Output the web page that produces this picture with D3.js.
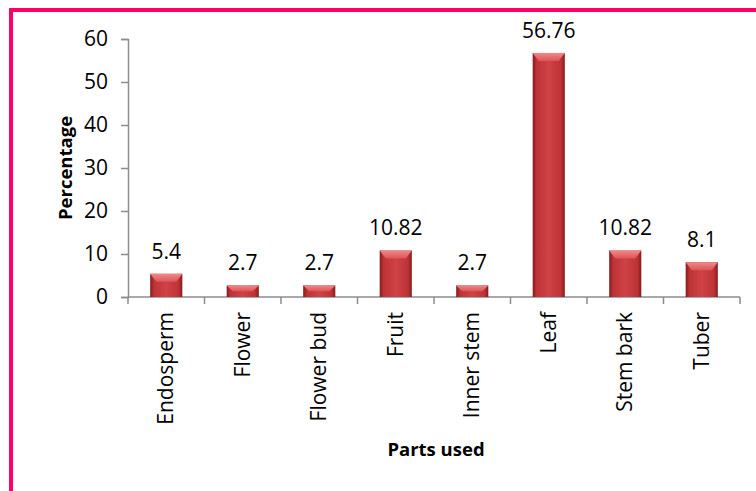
<!DOCTYPE html>
<html>
<head>
<meta charset="utf-8">
<script src="https://cdn.jsdelivr.net/npm/d3@7"></script>
<style>
  body { margin: 0; background: #fff; }
  svg { display: block; font-family: "Open Sans", sans-serif; }
</style>
</head>
<body>
<svg id="chart" width="756" height="491"></svg>
<script>
// data
var parts = ["Endosperm", "Flower", "Flower bud", "Fruit", "Inner stem", "Leaf", "Stem bark", "Tuber"];
var percents = [5.4, 2.7, 2.7, 10.82, 2.7, 56.76, 10.82, 8.1];
var yTicks = [0, 10, 20, 30, 40, 50, 60];

var svg = d3.select("#chart");
var plotLeft = 128, plotRight = 740, plotTop = 39, plotBottom = 297;

// pink frame (only left and top show in the crop)
svg.append("path")
  .attr("d", "M11,491 L11,10 L756,10")
  .attr("fill", "none")
  .attr("stroke", "#ff0066")
  .attr("stroke-width", 4);

var x = d3.scaleBand().domain(parts).range([plotLeft, plotRight]).paddingInner(0.58).paddingOuter(0.29);
var xTick = d3.scaleBand().domain(parts).range([plotLeft, plotRight]);
var y = d3.scaleLinear().domain([0, 60]).range([plotBottom, plotTop]);

var defs = svg.append("defs");
var grad = defs.append("linearGradient").attr("id", "barGrad").attr("x1", 0).attr("x2", 1).attr("y1", 0).attr("y2", 0);
grad.append("stop").attr("offset", "0%").attr("stop-color", "#861b1d");
grad.append("stop").attr("offset", "12%").attr("stop-color", "#bd3336");
grad.append("stop").attr("offset", "50%").attr("stop-color", "#cf4245");
grad.append("stop").attr("offset", "88%").attr("stop-color", "#bd3336");
grad.append("stop").attr("offset", "100%").attr("stop-color", "#861b1d");

var bevel = defs.append("linearGradient").attr("id", "bevelGrad").attr("x1", 0).attr("x2", 0).attr("y1", 0).attr("y2", 1);
bevel.append("stop").attr("offset", "0%").attr("stop-color", "#f08a8a");
bevel.append("stop").attr("offset", "100%").attr("stop-color", "#dd5456");

// y axis
var yAxis = svg.append("g")
  .attr("transform", "translate(" + plotLeft + ",0)")
  .call(d3.axisLeft(y).tickValues(yTicks).tickSize(7).tickPadding(13));
yAxis.select(".domain").attr("stroke", "#8c8c8c").attr("stroke-width", 1.5);
yAxis.selectAll(".tick line").attr("stroke", "#8c8c8c").attr("stroke-width", 1.5);
yAxis.selectAll(".tick text").attr("font-size", 21).attr("fill", "#000").attr("font-family", "Open Sans");

// x axis line with ticks at category boundaries
var xAxis = svg.append("g").attr("class", "xaxis");
xAxis.append("line")
  .attr("x1", plotLeft).attr("x2", plotRight).attr("y1", plotBottom).attr("y2", plotBottom)
  .attr("stroke", "#8c8c8c").attr("stroke-width", 1.5);
xAxis.selectAll("line.tk")
  .data(parts.concat(["end"]))
  .enter().append("line")
  .attr("class", "tk")
  .attr("x1", function(d, i) { return i < parts.length ? xTick(d) : plotRight; })
  .attr("x2", function(d, i) { return i < parts.length ? xTick(d) : plotRight; })
  .attr("y1", plotBottom).attr("y2", plotBottom + 7)
  .attr("stroke", "#8c8c8c").attr("stroke-width", 1.5);

// category labels, rotated
xAxis.selectAll("text.cat")
  .data(parts)
  .enter().append("text")
  .attr("class", "cat")
  .attr("transform", function(d) {
    return "translate(" + (x(d) + x.bandwidth() / 2 + 7) + "," + (plotBottom + 15) + ") rotate(-90)";
  })
  .attr("text-anchor", "end")
  .attr("font-size", 21)
  .text(function(d) { return d; });

// bars
var bars = svg.append("g").selectAll("g.bar")
  .data(parts.map(function(p, i) { return { part: p, value: percents[i] }; }))
  .enter().append("g").attr("class", "bar");

bars.append("rect")
  .attr("x", function(d) { return x(d.part); })
  .attr("y", function(d) { return y(d.value); })
  .attr("width", x.bandwidth())
  .attr("height", function(d) { return y(0) - y(d.value); })
  .attr("fill", "url(#barGrad)");

bars.append("path")
  .attr("d", function(d) {
    var x0 = x(d.part), w = x.bandwidth(), t = y(d.value);
    var h = Math.min(8, (y(0) - t) / 2);
    return "M" + x0 + "," + t + " L" + (x0 + w) + "," + t +
      " L" + (x0 + w - 6) + "," + (t + h) + " L" + (x0 + 6) + "," + (t + h) + "Z";
  })
  .attr("fill", "url(#bevelGrad)");

// value labels
bars.append("text")
  .attr("x", function(d) { return x(d.part) + x.bandwidth() / 2; })
  .attr("y", function(d) { return y(d.value) - 15; })
  .attr("text-anchor", "middle")
  .attr("font-size", 21)
  .text(function(d) { return d.value; });

// axis titles
svg.append("text")
  .attr("transform", "translate(72," + ((plotTop + plotBottom) / 2) + ") rotate(-90)")
  .attr("text-anchor", "middle")
  .attr("font-size", 18.5)
  .attr("font-weight", "bold")
  .text("Percentage");

svg.append("text")
  .attr("x", 436)
  .attr("y", 456)
  .attr("text-anchor", "middle")
  .attr("font-size", 18.5)
  .attr("font-weight", "bold")
  .text("Parts used");
</script>
</body>
</html>
